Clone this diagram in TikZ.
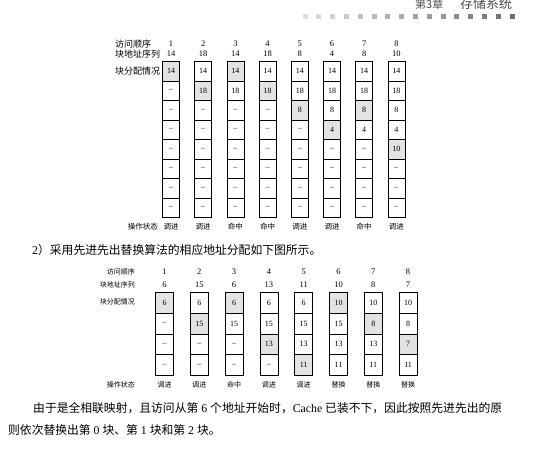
\documentclass[tikz,border=0pt]{standalone}
\usepackage{fontspec}
\setmainfont{Liberation Serif}
\newfontfamily\cjk{Noto Sans CJK SC}
\definecolor{shade}{gray}{0.89}
\definecolor{headgray}{gray}{0.3}
\begin{document}
\begin{tikzpicture}[x=1pt,y=-1pt,
  tcell/.style={draw, line width=0.8pt, minimum width=17pt, minimum height=19.5pt, inner sep=0pt, anchor=north, font=\fontsize{8}{8}\selectfont},
  bcell/.style={draw, line width=0.8pt, minimum width=18pt, minimum height=20.75pt, inner sep=0pt, anchor=north, font=\fontsize{8}{8}\selectfont},
  num/.style={inner sep=0pt, font=\fontsize{8.5}{8.5}\selectfont},
  tlab/.style={inner sep=0pt, anchor=west, font=\cjk\fontsize{9}{9}\selectfont},
  blab/.style={inner sep=0pt, anchor=east, font=\cjk\fontsize{7}{7}\selectfont},
  top/.style={inner sep=0pt, font=\cjk\fontsize{7.5}{7.5}\selectfont},
  bop/.style={inner sep=0pt, font=\cjk\fontsize{7}{7}\selectfont},
  para/.style={inner sep=0pt, anchor=west, font=\fontsize{11.8}{11.8}\selectfont},
  sq/.style={inner sep=0pt, minimum size=5pt}]
\useasboundingbox (0,0) rectangle (546,450);
\fill[white] (0,0) rectangle (546,450);

% header
\node[inner sep=0pt, anchor=west, text=headgray, font=\cjk\fontsize{11}{11}\selectfont] (h1) at (415,4) {第3章};
\node[inner sep=0pt, anchor=west, text=headgray, font=\cjk\fontsize{13}{13}\selectfont] (h2) at (460,4) {存储系统};
\foreach \k in {0,...,15}{
  \pgfmathtruncatemacro{\g}{12+3*\k}
  \node[sq, fill=black!\g] (sq\k) at ({305+13.8*\k},16) {};
}

% top table
\node[tlab] (tl1) at (115,44) {访问顺序};
\node[tlab] (tl2) at (115,54) {块地址序列};
\node[tlab] (tl3) at (115,71) {块分配情况};
\node[top, anchor=east] (tl4) at (158,227) {操作状态};
\foreach \c/\addr/\op/\sh/\vals in {
1/14/调进/1/{14,–,–,–,–,–,–,–},
2/18/调进/2/{14,18,–,–,–,–,–,–},
3/14/命中/1/{14,18,–,–,–,–,–,–},
4/18/命中/2/{14,18,–,–,–,–,–,–},
5/8/调进/3/{14,18,8,–,–,–,–,–},
6/4/调进/4/{14,18,8,4,–,–,–,–},
7/8/命中/3/{14,18,8,4,–,–,–,–},
8/10/调进/5/{14,18,8,4,10,–,–,–}}{
  \pgfmathsetmacro{\cx}{171+32.2*(\c-1)}
  \node[num] (ta\c) at (\cx,44) {\c};
  \node[num] (tb\c) at (\cx,54) {\addr};
  \foreach \v [count=\r] in \vals {
    \ifnum\r=\sh\relax\def\fc{shade}\else\def\fc{white}\fi
    \node[tcell, fill=\fc] (tc\c-\r) at (\cx,{61+19.5*(\r-1)}) {\v};
  }
  \node[top] (to\c) at (\cx,227) {\op};
}

% middle sentence
\node[para] (p1) at (32,250) {2{\cjk ）采用先进先出替换算法的相应地址分配如下图所示。}};

% bottom table
\node[blab] (bl1) at (135,272) {访问顺序};
\node[blab] (bl2) at (135,285) {块地址序列};
\node[blab] (bl3) at (135,302) {块分配情况};
\node[blab] (bl4) at (135,385) {操作状态};
\foreach \c/\addr/\op/\sh/\vals in {
1/6/调进/1/{6,–,–,–},
2/15/调进/2/{6,15,–,–},
3/6/命中/1/{6,15,–,–},
4/13/调进/3/{6,15,13,–},
5/11/调进/4/{6,15,13,11},
6/10/替换/1/{10,15,13,11},
7/8/替换/2/{10,8,13,11},
8/7/替换/3/{10,8,7,11}}{
  \pgfmathsetmacro{\cx}{164.5+34.8*(\c-1)}
  \node[num] (ba\c) at (\cx,272) {\c};
  \node[num] (bb\c) at (\cx,285) {\addr};
  \foreach \v [count=\r] in \vals {
    \ifnum\r=\sh\relax\def\fc{shade}\else\def\fc{white}\fi
    \node[bcell, fill=\fc] (bc\c-\r) at (\cx,{292+20.75*(\r-1)}) {\v};
  }
  \node[bop] (bo\c) at (\cx,385) {\op};
}

% bottom paragraph
\node[para] (q1) at (33,408) {{\cjk 由于是全相联映射，且访问从第} 6 {\cjk 个地址开始时，}Cache {\cjk 已装不下，因此按照先进先出的原}};
\node[para] (q2) at (8,430) {{\cjk 则依次替换出第} 0 {\cjk 块、第} 1 {\cjk 块和第} 2 {\cjk 块。}};
\end{tikzpicture}
\end{document}
